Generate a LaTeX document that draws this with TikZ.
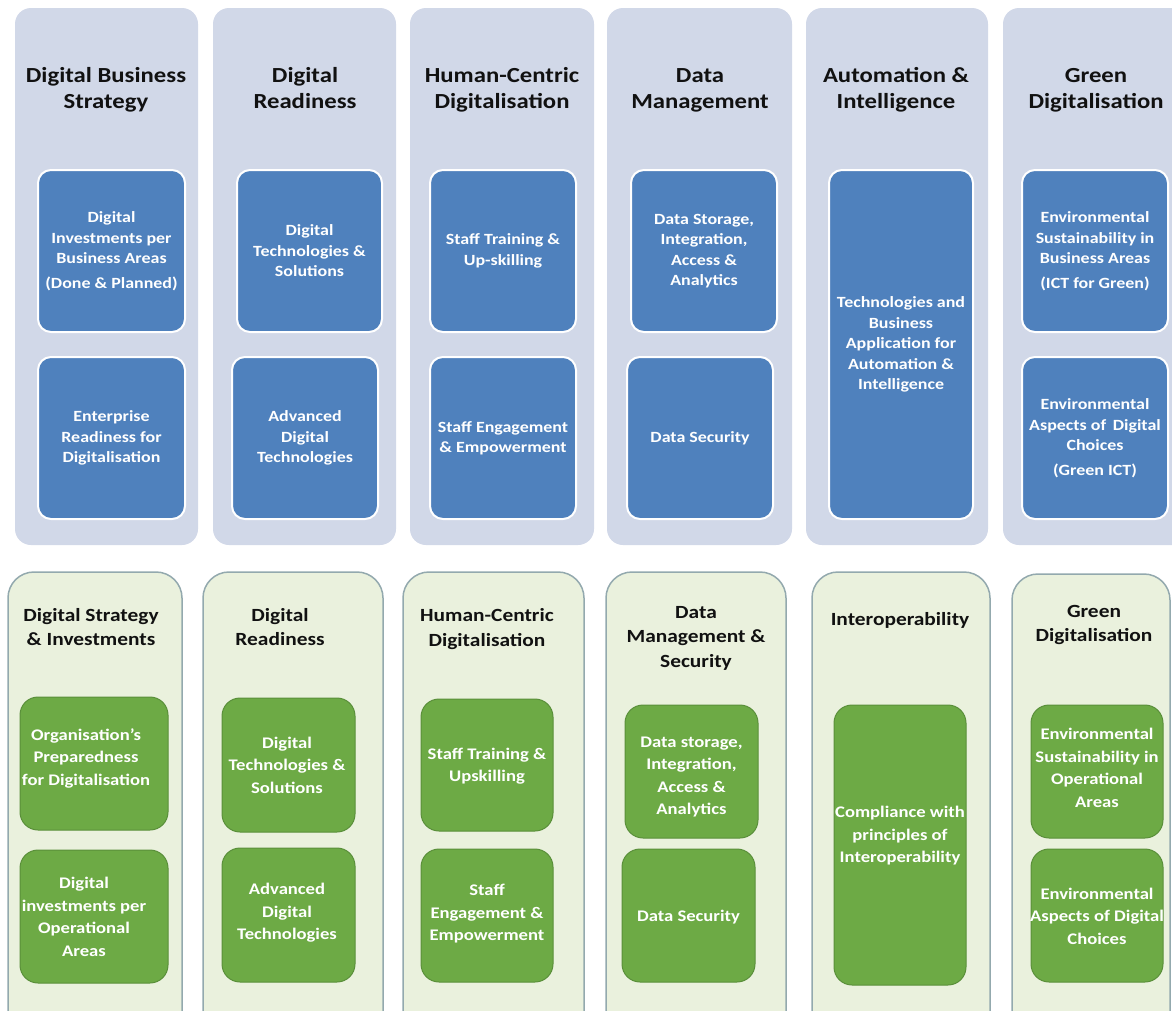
\documentclass[tikz,border=0pt]{standalone}
\usepackage{fontspec}
\setmainfont{Carlito}[FakeStretch=1.15]
\definecolor{topbg}{HTML}{D1D8E8}
\definecolor{bluef}{HTML}{4F81BD}
\definecolor{greenbg}{HTML}{EAF1DD}
\definecolor{greenline}{HTML}{93A9AE}
\definecolor{greenf}{HTML}{6DAA45}
\definecolor{greendk}{HTML}{5A8F3A}
\definecolor{titletext}{HTML}{111111}
\tikzset{
  topcol/.style={fill=topbg, draw=none, rounded corners=16pt},
  botcol/.style={fill=greenbg, draw=greenline, line width=1.5pt, rounded corners=26pt},
  bluebox/.style={fill=bluef, draw=white, line width=2pt, rounded corners=13pt,
    text=white, align=center, inner sep=0pt,
    font=\bfseries\fontsize{15.6}{20.5}\selectfont},
  greenbox/.style={fill=greenf, draw=greendk, line width=1pt, rounded corners=18pt,
    inner sep=0pt},
  greentext/.style={text=white, align=center, inner sep=0pt,
    font=\bfseries\fontsize{16.2}{22.5}\selectfont},
  toptitle/.style={text=titletext, align=center, inner sep=0pt,
    font=\bfseries\fontsize{21.5}{26}\selectfont},
  bottitle/.style={text=titletext, align=center, inner sep=0pt,
    font=\bfseries\fontsize{18.6}{24.5}\selectfont},
}
\begin{document}
\begin{tikzpicture}[x=1pt,y=-1pt]
\useasboundingbox (0,0) rectangle (1172,1010);
\clip (0,0) rectangle (1172,1010);
\fill[white] (0,0) rectangle (1172,1010);
% ---------- top row columns ----------
\draw[topcol] (15,8) rectangle (198,545);
\draw[topcol] (213,8) rectangle (396,545);
\draw[topcol] (410,8) rectangle (594,545);
\draw[topcol] (607,8) rectangle (792,545);
\draw[topcol] (806,8) rectangle (988,545);
\draw[topcol] (1003,8) rectangle (1192,545);
% titles
\node[toptitle] (t1) at (106,90) {Digital Business\\Strategy};
\node[toptitle] (t2) at (305,88) {Digital\\Readiness};
\node[toptitle] (t3) at (502,90) {Human-Centric\\Digitalisation};
\node[toptitle] (t4) at (700,90) {Data\\Management};
\node[toptitle] (t5) at (896,90) {Automation \&\\Intelligence};
\node[toptitle] (t6) at (1096,90) {Green\\Digitalisation};
% blue boxes
\node[bluebox, minimum width=147pt, minimum height=162pt] (b11) at (111.5,251)
  {Digital\\Investments per\\Business Areas\\[4pt](Done \& Planned)};
\node[bluebox, minimum width=147pt, minimum height=162pt] (b12) at (111.5,438)
  {Enterprise\\Readiness for\\Digitalisation};
\node[bluebox, minimum width=145pt, minimum height=162pt] (b21) at (309.5,251)
  {Digital\\Technologies \&\\Solutions};
\node[bluebox, minimum width=146pt, minimum height=162pt] (b22) at (305,438)
  {Advanced\\Digital\\Technologies};
\node[bluebox, minimum width=146pt, minimum height=162pt] (b31) at (503,251)
  {Staff Training \&\\Up-skilling};
\node[bluebox, minimum width=146pt, minimum height=162pt] (b32) at (503,438)
  {Staff Engagement\\\& Empowerment};
\node[bluebox, minimum width=146pt, minimum height=162pt] (b41) at (704,251)
  {Data Storage,\\Integration,\\Access \&\\Analytics};
\node[bluebox, minimum width=146pt, minimum height=162pt] (b42) at (700,438)
  {Data Security};
\node[bluebox, minimum width=144pt, minimum height=349pt] (b51) at (901,344.5)
  {Technologies and\\Business\\Application for\\Automation \&\\Intelligence};
\node[bluebox, minimum width=146pt, minimum height=162pt] (b61) at (1095,251)
  {Environmental\\Sustainability in\\Business Areas\\[4pt](ICT for Green)};
\node[bluebox, minimum width=146pt, minimum height=162pt] (b62) at (1095,438)
  {Environmental\\Aspects of \,Digital\\Choices\\[4pt](Green ICT)};
% ---------- bottom row columns ----------
\draw[botcol] (8,572) rectangle (182,1040);
\draw[botcol] (203,572) rectangle (383,1040);
\draw[botcol] (403,572) rectangle (584,1040);
\draw[botcol] (606,572) rectangle (786,1040);
\draw[botcol] (812,572) rectangle (990,1040);
\draw[botcol] (1012,574) rectangle (1170,1040);
% titles
\node[bottitle] (s1) at (91,627) {Digital Strategy\\\& Investments};
\node[bottitle] (s2) at (280,627) {Digital\\Readiness};
\node[bottitle] (s3) at (487,629) {Human-Centric\\Digitalisation};
\node[bottitle] (s4) at (696,638) {Data\\Management \&\\Security};
\node[bottitle] (s5) at (900,620) {Interoperability};
\node[bottitle] (s6) at (1094,625) {Green\\Digitalisation};
% green boxes
\node[greenbox, minimum width=148pt, minimum height=133pt] (g11) at (94,763.5) {};
\node[greentext] (g11t) at (86,758) {Organisation’s\\Preparedness\\for Digitalisation};
\node[greenbox, minimum width=148pt, minimum height=133pt] (g12) at (94,916.5) {};
\node[greentext] (g12t) at (84,917) {Digital\\investments per\\Operational\\Areas};
\node[greenbox, minimum width=133pt, minimum height=134pt] (g21) at (288.5,765) {};
\node[greentext] (g21t) at (287,765) {Digital\\Technologies \&\\Solutions};
\node[greenbox, minimum width=133pt, minimum height=134pt] (g22) at (288.5,915) {};
\node[greentext] (g22t) at (287,913) {Advanced\\Digital\\Technologies};
\node[greenbox, minimum width=132pt, minimum height=132pt] (g31) at (487,765) {};
\node[greentext] (g31t) at (487,766) {Staff Training \&\\Upskilling};
\node[greenbox, minimum width=132pt, minimum height=133pt] (g32) at (487,915.5) {};
\node[greentext] (g32t) at (487,914) {Staff\\Engagement \&\\Empowerment};
\node[greenbox, minimum width=133pt, minimum height=133pt] (g41) at (691.5,771.5) {};
\node[greentext] (g41t) at (691.5,777) {Data storage,\\Integration,\\Access \&\\Analytics};
\node[greenbox, minimum width=133pt, minimum height=133pt] (g42) at (688.5,915.5) {};
\node[greentext] (g42t) at (688.5,917) {Data Security};
\node[greenbox, minimum width=132pt, minimum height=280pt] (g51) at (900,845) {};
\node[greentext] (g51t) at (900,836) {Compliance with\\principles of\\Interoperability};
\node[greenbox, minimum width=132pt, minimum height=133pt] (g61) at (1097,771.5) {};
\node[greentext] (g61t) at (1097,768) {Environmental\\Sustainability in\\Operational\\Areas};
\node[greenbox, minimum width=132pt, minimum height=133pt] (g62) at (1097,915.5) {};
\node[greentext] (g62t) at (1097,916) {Environmental\\Aspects of Digital\\Choices};
\end{tikzpicture}
\end{document}
